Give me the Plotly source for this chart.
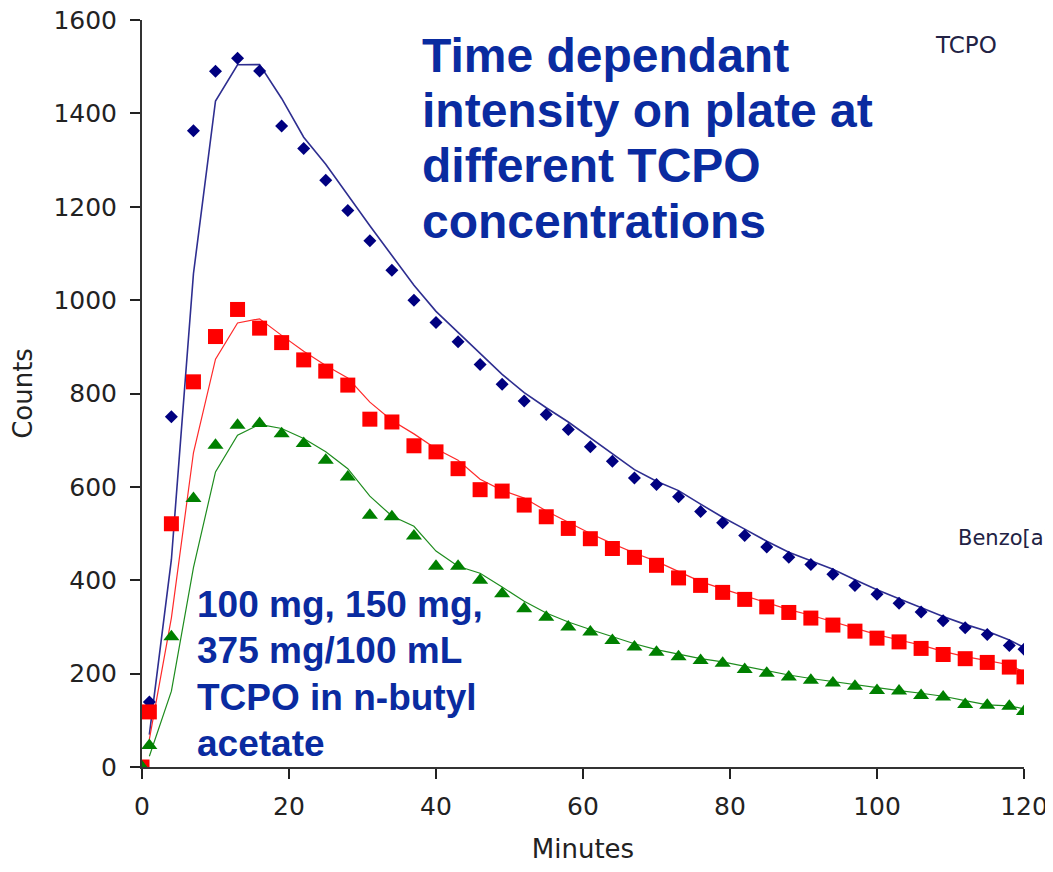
import plotly.graph_objects as go
import pandas as pd

minutes = [0, 1, 4, 7, 10, 13, 16, 19, 22, 25, 28, 31, 34, 37, 40, 43, 46, 49, 52, 55, 58,
           61, 64, 67, 70, 73, 76, 79, 82, 85, 88, 91, 94, 97, 100, 103, 106, 109, 112, 115, 118, 120]
tcpo_375 = [0, 139, 750, 1363, 1490, 1518, 1491, 1373, 1325, 1257, 1192, 1127, 1064, 1000, 952, 911,
            862, 820, 784, 755, 723, 686, 655, 619, 605, 579, 547, 523, 496, 471, 449, 434, 413, 389,
            370, 351, 332, 313, 298, 284, 260, 252]
tcpo_150 = [0, 118, 521, 825, 922, 980, 940, 909, 872, 848, 818, 745, 739, 688, 675, 639, 594, 591,
            561, 536, 511, 489, 468, 449, 432, 405, 389, 374, 359, 343, 331, 319, 304, 291, 276, 268,
            254, 241, 232, 224, 214, 193]
tcpo_100 = [0, 46, 279, 575, 689, 732, 736, 714, 693, 657, 621, 539, 536, 495, 430, 430, 400, 371,
            339, 321, 300, 289, 271, 257, 246, 236, 228, 222, 209, 201, 193, 186, 180, 173, 164, 163,
            153, 150, 134, 132, 130, 119]

x_ticks = [0, 20, 40, 60, 80, 100, 120]
y_ticks = [0, 200, 400, 600, 800, 1000, 1200, 1400, 1600]

title_lines = ["Time dependant", "intensity on plate at", "different TCPO", "concentrations"]
note_lines = ["100 mg, 150 mg,", "375 mg/100 mL", "TCPO in n-butyl", "acetate"]

BOLD = "Arial, Liberation Sans, sans-serif"
PLAIN = "DejaVu Sans, sans-serif"
BLUE_TXT = "#0a2ba0"

series = [
    (tcpo_375, "#000080", "diamond", 10, "#2e2e90", 1.6),
    (tcpo_150, "#ff0000", "square", 15, "#ff2a2a", 1.2),
    (tcpo_100, "#008000", "triangle-up", 14, "#1e8c1e", 1.2),
]

fig = go.Figure()
for vals, mcol, sym, msize, lcol, lw in series:
    # Excel-style 2-period moving average trendline
    ma = pd.Series(vals).rolling(2).mean()
    fig.add_trace(go.Scatter(x=minutes[1:], y=list(ma[1:]), mode="lines",
                             line=dict(color=lcol, width=lw), hoverinfo="skip"))
for vals, mcol, sym, msize, lcol, lw in series:
    fig.add_trace(go.Scatter(x=minutes, y=vals, mode="markers",
                             marker=dict(color=mcol, symbol=sym, size=msize, line=dict(width=0))))

fig.update_layout(
    width=1045, height=856, autosize=False,
    margin=dict(l=134, r=29, t=12, b=97, autoexpand=False),
    paper_bgcolor="white", plot_bgcolor="white",
    showlegend=False,
    font=dict(family=PLAIN, color="#222222"),
    xaxis=dict(range=[0, 120], tickvals=x_ticks, ticks="outside", ticklen=10, tickwidth=1.5,
               tickcolor="#222", showline=True, linecolor="#333", linewidth=2, showgrid=False,
               zeroline=False, tickfont=dict(family=PLAIN, size=25, color="#222"),
               ticklabelstandoff=6, ticklabeloverflow="allow", automargin=False,
               title=dict(text="Minutes", font=dict(family=PLAIN, size=26, color="#222"), standoff=21)),
    yaxis=dict(range=[0, 1600], tickvals=y_ticks, ticks="outside", ticklen=10, tickwidth=1.5,
               tickcolor="#222", showline=True, linecolor="#333", linewidth=2, showgrid=False,
               zeroline=False, tickfont=dict(family=PLAIN, size=25, color="#222"),
               ticklabelstandoff=8, ticklabeloverflow="allow", automargin=False,
               title=dict(text="Counts", font=dict(family=PLAIN, size=26, color="#222"), standoff=13)),
)

title_y = [0.9531, 0.8782, 0.8046, 0.7309]
for txt, yy in zip(title_lines, title_y):
    fig.add_annotation(xref="paper", yref="paper", x=0.3148, y=yy, xanchor="left", yanchor="middle",
                       align="left", showarrow=False, text="<b>" + txt + "</b>",
                       font=dict(family=BOLD, size=48, color=BLUE_TXT))

note_y = [0.2169, 0.1553, 0.0937, 0.0308]
for txt, yy in zip(note_lines, note_y):
    fig.add_annotation(xref="paper", yref="paper", x=0.060, y=yy, xanchor="left", yanchor="middle",
                       align="left", showarrow=False, text="<b>" + txt + "</b>",
                       font=dict(family=BOLD, size=37, color=BLUE_TXT))

fig.add_annotation(xref="paper", yref="paper", x=0.897, y=0.9665, xanchor="left", yanchor="middle",
                   showarrow=False, text="TCPO", font=dict(family=PLAIN, size=23, color="#222244"))
fig.add_annotation(xref="paper", yref="paper", x=0.923, y=0.3066, xanchor="left", yanchor="middle",
                   showarrow=False, text="Benzo[a]", font=dict(family=PLAIN, size=21, color="#222244"))

fig.write_html("out.html")
